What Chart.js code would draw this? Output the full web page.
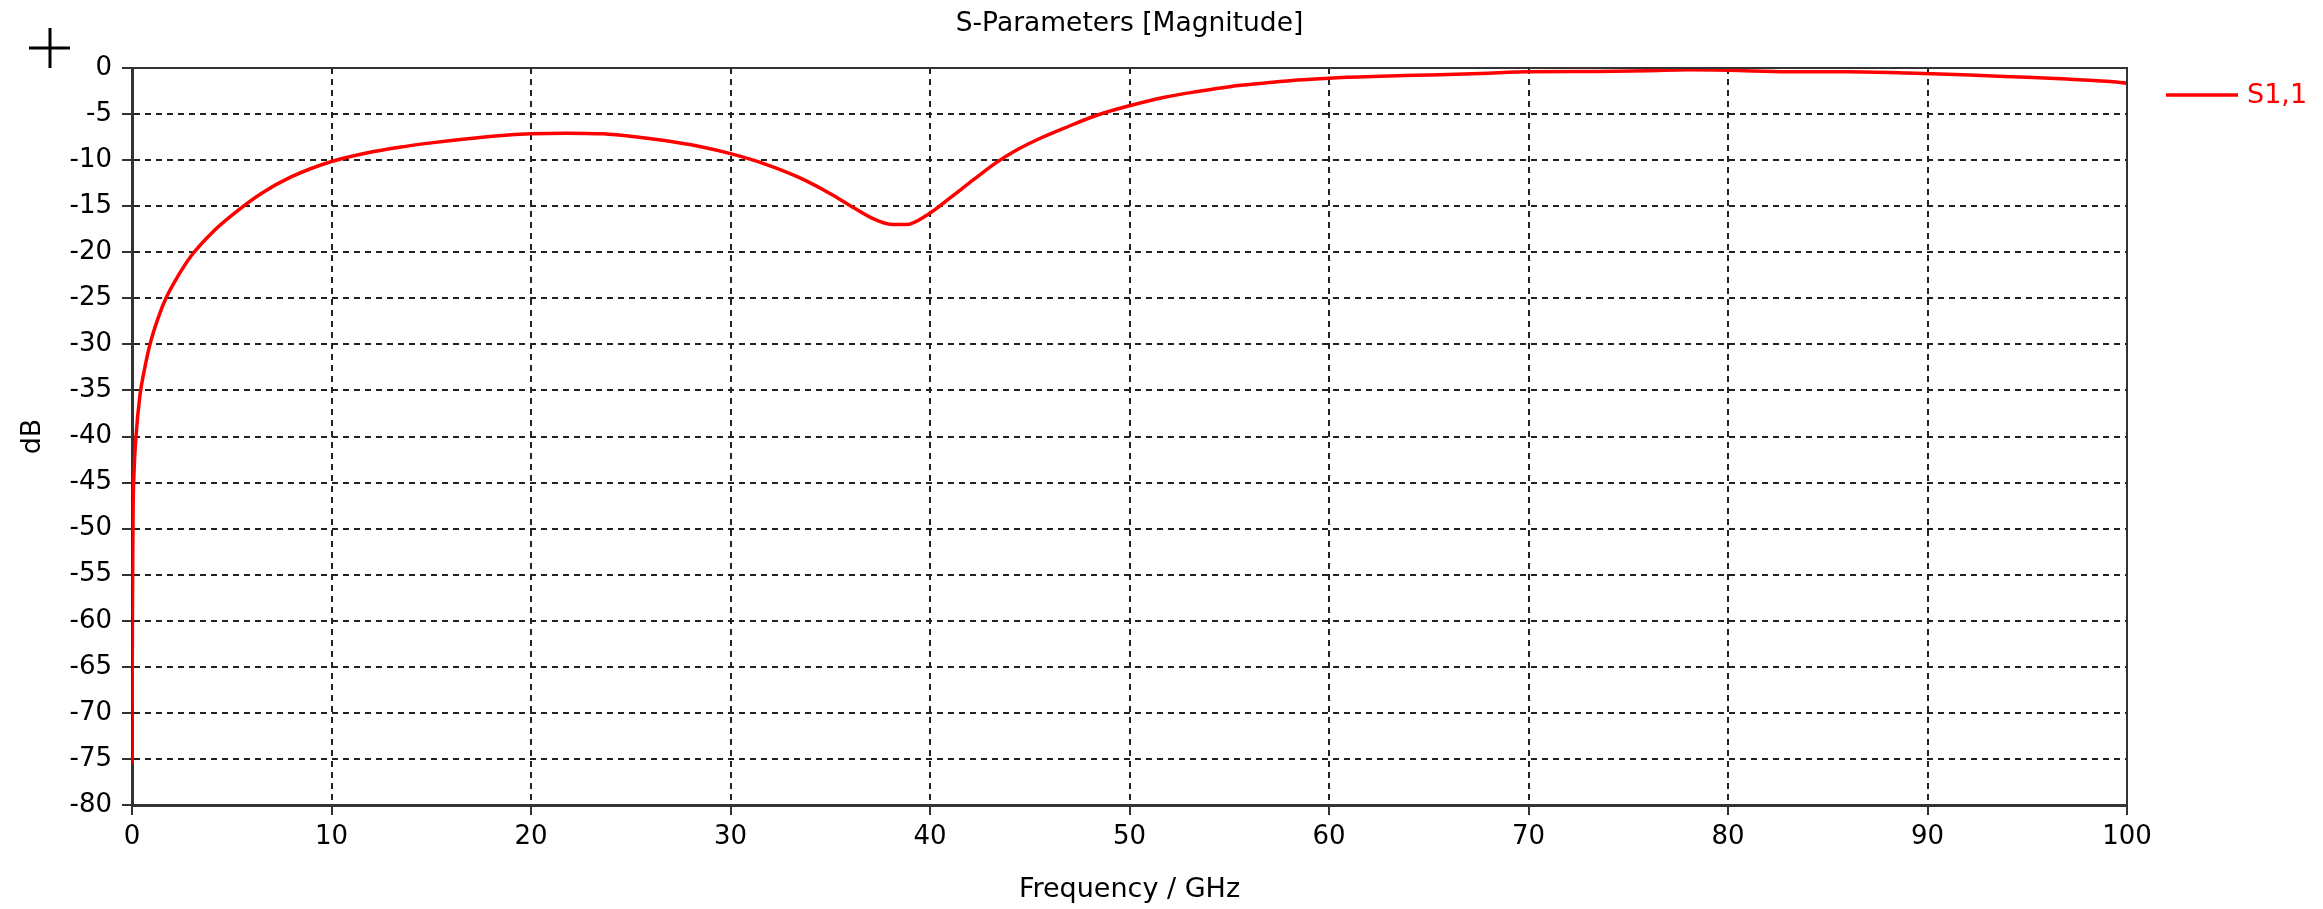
<!DOCTYPE html>
<html>
<head>
<meta charset="utf-8">
<script src="https://cdn.jsdelivr.net/npm/chart.js@4"></script>
<style>
html,body{margin:0;padding:0;background:#fff;}
#wrap{width:2323px;height:909px;}
</style>
</head>
<body>
<div id="wrap"><canvas id="c" width="2323" height="909"></canvas></div>
<script>
const chartTitle = "S-Parameters [Magnitude]";
const xTitle = "Frequency / GHz";
const yTitle = "dB";
const seriesName = "S1,1";
const freqGHz = [0, 0.02, 0.05, 0.1, 0.2, 0.4, 0.6, 0.9, 1.3, 1.7, 2.3, 3.0, 4.0, 5.0, 6.5, 8.0, 10, 11.7, 13.4, 15.1, 16.7, 18.4, 20, 21.7, 23.6, 25.1, 26.7, 28.4, 30, 31.7, 33.4, 35.05, 36.2, 37.2, 38, 38.8, 39.9, 41.07, 42.2, 43.3, 44.3, 45.5, 46.7, 48.4, 50, 51.7, 53.4, 55.1, 56.7, 58.4, 60, 62.6, 65.1, 67.6, 70, 73.4, 76, 78, 80, 83, 86, 89, 91, 93, 95, 97, 99, 100];
const s11dB = [-75.5, -60, -49, -44, -40, -35.5, -33, -30, -27.2, -25, -22.6, -20.3, -17.9, -16.0, -13.6, -11.8, -10.15, -9.25, -8.6, -8.1, -7.7, -7.35, -7.15, -7.07, -7.15, -7.43, -7.87, -8.5, -9.3, -10.4, -11.85, -13.7, -15.2, -16.4, -16.95, -17.0, -15.9, -14.0, -12.1, -10.3, -8.95, -7.65, -6.55, -5.1, -4.1, -3.2, -2.55, -2.0, -1.65, -1.3, -1.1, -0.9, -0.75, -0.6, -0.42, -0.38, -0.3, -0.2, -0.25, -0.4, -0.42, -0.55, -0.68, -0.85, -1.0, -1.2, -1.45, -1.65];
const xRange = [0, 100, 10];
const yRange = [-80, 0, 5];

const FONT = "DejaVu Sans";
Chart.defaults.font.family = FONT;
Chart.defaults.color = "#000";

const points = freqGHz.map((f, i) => ({x: f, y: s11dB[i]}));

const decor = {
  id: 'decor',
  afterDraw(chart) {
    const ctx = chart.ctx;
    const a = chart.chartArea;
    ctx.save();
    ctx.setLineDash([]);
    // frame top and right
    ctx.strokeStyle = '#333';
    ctx.lineWidth = 2;
    ctx.beginPath();
    ctx.moveTo(a.left, a.top);
    ctx.lineTo(a.right, a.top);
    ctx.lineTo(a.right, a.bottom);
    ctx.stroke();
    // title
    ctx.fillStyle = '#000';
    ctx.font = '26.5px "' + FONT + '"';
    ctx.textAlign = 'center';
    ctx.textBaseline = 'middle';
    ctx.fillText(chartTitle, (a.left + a.right) / 2, 24);
    // legend
    ctx.strokeStyle = '#ff0000';
    ctx.lineWidth = 3.5;
    ctx.beginPath();
    ctx.moveTo(2166, 95);
    ctx.lineTo(2238, 95);
    ctx.stroke();
    ctx.fillStyle = '#ff0000';
    ctx.font = '27px "' + FONT + '"';
    ctx.textAlign = 'left';
    ctx.fillText(seriesName, 2247, 96);
    // cross cursor
    ctx.strokeStyle = '#000';
    ctx.lineWidth = 3;
    ctx.beginPath();
    ctx.moveTo(29, 48); ctx.lineTo(70, 48);
    ctx.moveTo(50, 28); ctx.lineTo(50, 68);
    ctx.stroke();
    ctx.restore();
  }
};

new Chart(document.getElementById('c'), {
  type: 'line',
  data: {
    datasets: [{
      label: seriesName,
      data: points,
      borderColor: '#ff0000',
      backgroundColor: '#ff0000',
      borderWidth: 3.5,
      pointRadius: 0,
      cubicInterpolationMode: 'monotone',
      fill: false
    }]
  },
  options: {
    responsive: false,
    animation: false,
    devicePixelRatio: 1,
    layout: {padding: {top: 68, right: 196, left: 0, bottom: 0}},
    plugins: {legend: {display: false}, tooltip: {enabled: false}, title: {display: false}},
    scales: {
      x: {
        type: 'linear',
        min: xRange[0], max: xRange[1],
        afterFit(s) { s.height = 104; },
        ticks: {stepSize: xRange[2], padding: 7, font: {size: 26}, color: '#000', maxRotation: 0},
        grid: {color: '#222', lineWidth: 2, tickLength: 10, tickBorderDash: [], tickColor: '#333', tickWidth: 2},
        border: {display: true, color: '#333', width: 3, dash: [6, 5]},
        title: {display: true, text: xTitle, font: {size: 27}, color: '#000', padding: {top: 0, bottom: 3}}
      },
      y: {
        type: 'linear',
        min: yRange[0], max: yRange[1],
        afterFit(s) { s.width = 132; },
        ticks: {stepSize: yRange[2], padding: 10, font: {size: 26}, color: '#000'},
        grid: {color: '#222', lineWidth: 2, tickLength: 10, tickBorderDash: [], tickColor: '#333', tickWidth: 2},
        border: {display: true, color: '#333', width: 3, dash: [6, 5]},
        title: {display: true, text: yTitle, font: {size: 27}, color: '#000', padding: {top: 17, bottom: 0}}
      }
    }
  },
  plugins: [decor]
});
</script>
</body>
</html>
